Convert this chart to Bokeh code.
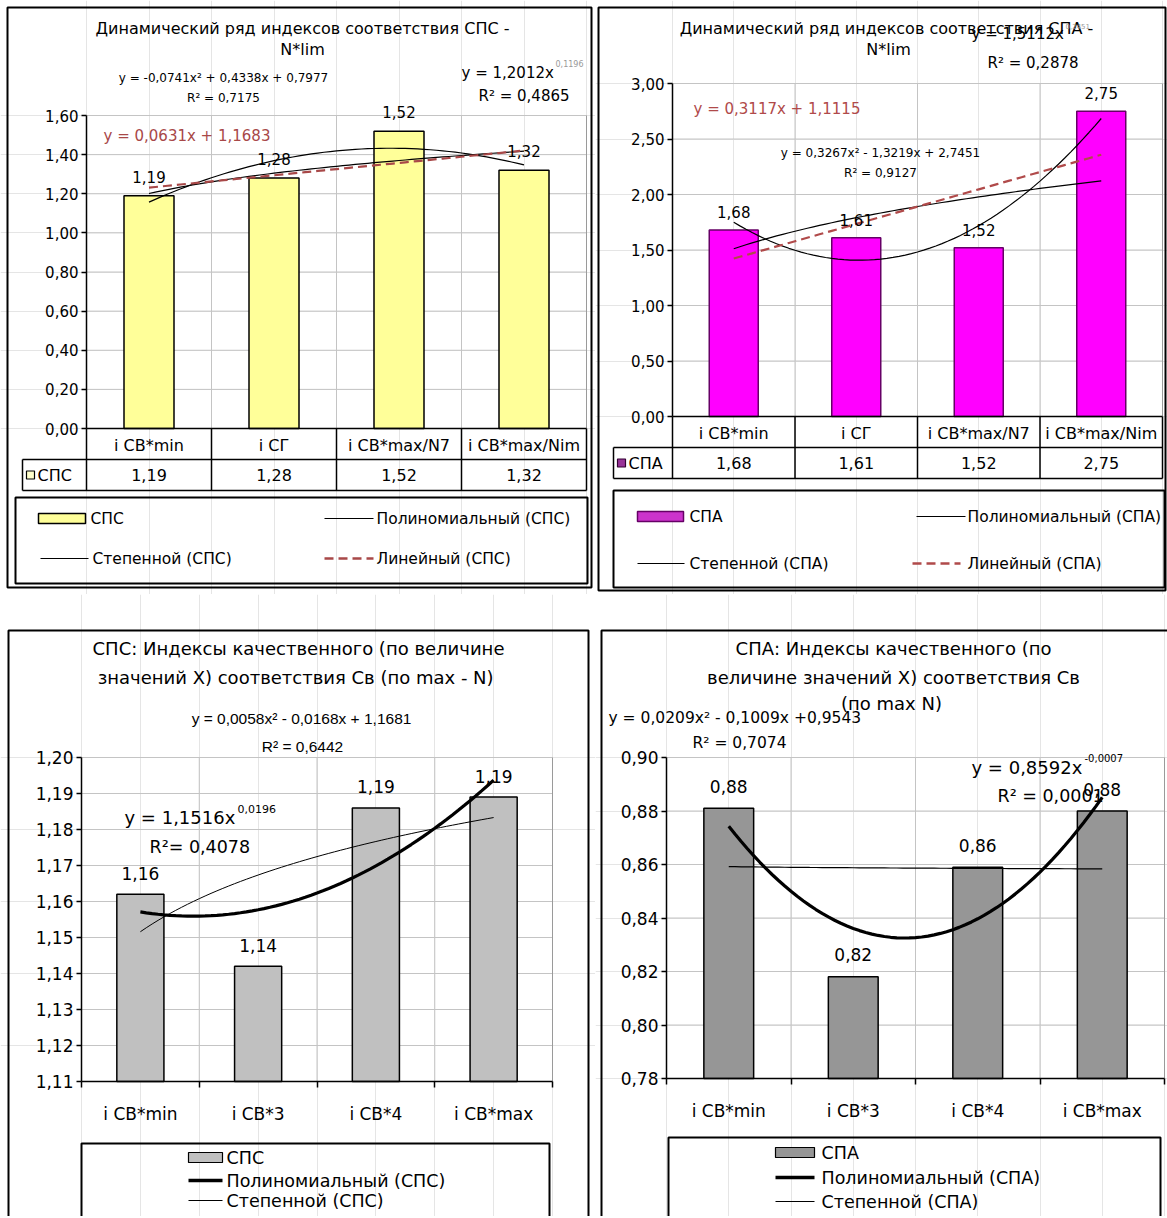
import numpy as np
from bokeh.plotting import figure
from bokeh.models import Range1d, LinearAxis, FixedTicker, CustomJSTickFormatter
from bokeh.layouts import row, column
from bokeh.core.properties import value
from bokeh.embed import file_html
from bokeh.resources import INLINE

# ---------------- data ----------------
top_categories = ["i СВ*min", "i СГ", "i СВ*max/N7", "i СВ*max/Nim"]
sps_top = [1.19, 1.28, 1.52, 1.32]
spa_top = [1.68, 1.61, 1.52, 2.75]
bottom_categories = ["i СВ*min", "i СВ*3", "i СВ*4", "i СВ*max"]
sps_bottom = [1.162, 1.142, 1.186, 1.189]
spa_bottom = [0.881, 0.818, 0.859, 0.880]

# trend-line coefficients as printed on the charts
sps_top_poly = [-0.0741, 0.4338, 0.7977]
sps_top_power = [1.2012, 0.1196]
sps_top_linear = [0.0631, 1.1683]
spa_top_poly = [0.3267, -1.3219, 2.7451]
spa_top_power = [1.5112, 0.2451]
spa_top_linear = [0.3117, 1.1115]
sps_bottom_poly = [0.0058, -0.0168, 1.1681]
sps_bottom_power = [1.1516, 0.0196]
spa_bottom_poly = [0.0209, -0.1009, 0.9543]
spa_bottom_power = [0.8592, -0.0007]

sps_top_ticks = [0.0, 0.2, 0.4, 0.6, 0.8, 1.0, 1.2, 1.4, 1.6]
spa_top_ticks = [0.0, 0.5, 1.0, 1.5, 2.0, 2.5, 3.0]
sps_bottom_ticks = [1.11, 1.12, 1.13, 1.14, 1.15, 1.16, 1.17, 1.18, 1.19, 1.20]
spa_bottom_ticks = [0.78, 0.80, 0.82, 0.84, 0.86, 0.88, 0.90]

FONT = "DejaVu Sans"
NARROW = "Liberation Sans"
GRID = "#c4c4c4"


def comma(v):
    return f"{v:.2f}".replace(".", ",")


class Panel:
    """One Excel-like chart; the canvas is the whole chart area, the plot
    area is mapped onto pixel box (L, T)-(R, B) through the data ranges."""

    def __init__(self, W, H, L, R, T, B, ymin, ymax):
        self.W, self.H = W, H
        self.L, self.R, self.T, self.B = L, R, T, B
        self.ymin, self.ymax = ymin, ymax
        self.kx = (R - L) / 4.0
        self.x0 = -L / self.kx
        self.x1 = (W - L) / self.kx
        self.ky = (B - T) / (ymax - ymin)
        self.y1 = ymax + T / self.ky
        self.y0 = ymin - (H - B) / self.ky
        p = figure(width=W, height=H, x_range=Range1d(self.x0, self.x1),
                   y_range=Range1d(self.y0, self.y1), output_backend="svg",
                   toolbar_location=None, x_axis_location=None, y_axis_location=None,
                   min_border=0, tools="")
        p.outline_line_color = None
        p.background_fill_color = "white"
        p.border_fill_color = "white"
        self.p = p

    def X(self, px):
        return self.x0 + px / self.kx

    def Y(self, py):
        return self.y1 - py / self.ky

    def text(self, px, py, s, size, align="left", color="black", font=FONT, style="normal"):
        self.p.text(x=[self.X(px)], y=[self.Y(py)], text=[s], text_font=value(font),
                    text_font_size=f"{size}px", text_align=align, text_baseline="middle",
                    text_color=color, text_font_style=style)

    def line(self, pxs, pys, color="black", width=1.0, dash="solid"):
        self.p.line(x=[self.X(v) for v in pxs], y=[self.Y(v) for v in pys],
                    line_color=color, line_width=width, line_dash=dash)

    def box(self, l, t, r, b, color="black", width=1.0, fill=None):
        self.p.quad(left=[self.X(l)], right=[self.X(r)], top=[self.Y(t)], bottom=[self.Y(b)],
                    fill_color=fill, line_color=color, line_width=width)

    # ---- chart pieces ----
    def grid(self, ticks):
        ys = [t for t in ticks if t > self.ymin + 1e-9]
        self.p.segment(x0=[0] * len(ys), x1=[4] * len(ys), y0=ys, y1=ys,
                       line_color=GRID, line_width=1)
        self.p.segment(x0=[1, 2, 3], x1=[1, 2, 3], y0=[self.ymin] * 3, y1=[self.ymax] * 3,
                       line_color=GRID, line_width=1)
        self.p.segment(x0=[4], x1=[4], y0=[self.ymin], y1=[self.ymax],
                       line_color="#9a9a9a", line_width=1)

    def bars(self, vals, fill, edge):
        self.p.vbar(x=[i + 0.5 for i in range(len(vals))], top=vals, bottom=self.ymin,
                    width=0.4, fill_color=fill, line_color=edge, line_width=1.5)

    def data_labels(self, vals, off, size):
        self.p.text(x=[i + 0.5 for i in range(len(vals))], y=[v + off / self.ky for v in vals],
                    text=[comma(v) for v in vals], text_font=value(FONT),
                    text_font_size=f"{size}px", text_align="center", text_baseline="middle")

    def trend(self, kind, c, color="black", width=1.0, dash="solid"):
        xe = np.linspace(1, 4, 61)
        if kind == "poly":
            ye = c[0] * xe ** 2 + c[1] * xe + c[2]
        elif kind == "power":
            ye = c[0] * xe ** c[1]
        else:
            ye = c[0] * xe + c[1]
        self.p.line(x=xe - 0.5, y=ye, line_color=color, line_width=width, line_dash=dash)

    def yaxis(self, ticks, size):
        ax = LinearAxis(fixed_location=0, bounds=(self.ymin, self.ymax),
                        ticker=FixedTicker(ticks=ticks),
                        formatter=CustomJSTickFormatter(code="return tick.toFixed(2).replace('.', ',');"))
        ax.major_tick_in = 0
        ax.major_tick_out = 5
        ax.minor_tick_in = 0
        ax.minor_tick_out = 0
        ax.axis_line_width = 1.5
        ax.major_tick_line_width = 1.5
        ax.major_label_standoff = 3
        ax.major_label_text_font = FONT
        ax.major_label_text_font_size = f"{size}px"
        ax.major_label_text_color = "black"
        self.p.add_layout(ax, "left")

    def xaxis(self, tick_out):
        ax = LinearAxis(fixed_location=self.ymin, bounds=(0, 4),
                        ticker=FixedTicker(ticks=[0, 1, 2, 3, 4]),
                        formatter=CustomJSTickFormatter(code="return '';"))
        ax.major_tick_in = 0
        ax.major_tick_out = tick_out
        ax.minor_tick_in = 0
        ax.minor_tick_out = 0
        ax.axis_line_width = 1.5
        ax.major_tick_line_width = 1.5
        self.p.add_layout(ax, "below")

    def xlabels(self, cats, size, standoff):
        ax = LinearAxis(fixed_location=self.ymin, bounds=(0, 4),
                        ticker=FixedTicker(ticks=[0.5, 1.5, 2.5, 3.5]),
                        formatter=CustomJSTickFormatter(args=dict(labels=cats),
                                                        code="return labels[Math.round(tick - 0.5)];"))
        ax.axis_line_color = None
        ax.major_tick_line_color = None
        ax.major_tick_in = 0
        ax.major_tick_out = 0
        ax.minor_tick_in = 0
        ax.minor_tick_out = 0
        ax.major_label_standoff = standoff
        ax.major_label_text_font = FONT
        ax.major_label_text_font_size = f"{size}px"
        ax.major_label_text_color = "black"
        self.p.add_layout(ax, "below")

    def table(self, vals, name, swatch_fill, swatch_edge, label_left, row_h, size):
        B, L, R = self.B, self.L, self.R
        r1, r2 = B + row_h, B + 2 * row_h
        cw = (R - L) / 4.0
        self.line([label_left, R], [r1, r1], width=1.5)
        self.line([label_left, R], [r2, r2], width=1.5)
        self.line([label_left, label_left], [r1, r2], width=1.5)
        for k in range(5):
            xk = L + k * cw
            self.line([xk, xk], [B, r2], width=1.5)
        self.p.text(x=[i + 0.5 for i in range(4)], y=[self.Y((r1 + r2) / 2)] * 4,
                    text=[comma(v) for v in vals], text_font=value(FONT),
                    text_font_size=f"{size}px", text_align="center", text_baseline="middle")
        cy = (r1 + r2) / 2
        self.box(label_left + 4, cy - 4, label_left + 12, cy + 4, color=swatch_edge, width=1.2,
                 fill=swatch_fill)
        self.text(label_left + 15, cy, name, size)


# =============== Panel 1: СПС top (origin 0,0) ===============
P1 = Panel(595, 594, 86, 586, 115, 428, 0.0, 1.6)
P1.grid(sps_top_ticks)
P1.bars(sps_top, "#ffff99", "black")
P1.trend("poly", sps_top_poly, "black", 1.2)
P1.trend("power", sps_top_power, "black", 1.2)
P1.trend("linear", sps_top_linear, "#a84848", 2.2, "9 5")
P1.data_labels(sps_top, 19, 15)
P1.yaxis(sps_top_ticks, 15)
P1.xaxis(0)
P1.xlabels(top_categories, 16, 7)
P1.table(sps_top, "СПС", "#ffffcc", "black", 22, 31, 16)
P1.text(302, 28, "Динамический ряд индексов соответствия СПС -", 16, "center")
P1.text(302, 49, "N*lim", 16, "center")
P1.text(223, 77, "y = -0,0741x² + 0,4338x + 0,7977", 12, "center")
P1.text(223, 97, "R² = 0,7175", 12, "center")
P1.text(461, 72, "y = 1,2012x", 15)
P1.text(555, 63, "0,1196", 8, color="#999999")
P1.text(478, 95, "R² = 0,4865", 15)
P1.text(103, 135, "y = 0,0631x + 1,1683", 15, color="#a84848")
# legend
P1.box(15, 497, 587, 583, width=2)
P1.box(38, 513, 85, 523, width=1.5, fill="#ffff99")
P1.text(90, 518, "СПС", 15.5)
P1.line([324, 373], [518, 518], width=1.2)
P1.text(376, 518, "Полиномиальный (СПС)", 15.5)
P1.line([40, 88], [558, 558], width=1.2)
P1.text(92, 558, "Степенной (СПС)", 15.5)
P1.line([324, 373], [558, 558], color="#a84848", width=2.5, dash="9 5")
P1.text(376, 558, "Линейный (СПС)", 15.5)
P1.box(7, 7, 591, 587, width=2)

# =============== Panel 2: СПА top (origin 595,0) ===============
P2 = Panel(572, 594, 77, 567, 83, 416, 0.0, 3.0)
P2.grid(spa_top_ticks)
P2.bars(spa_top, "#ff00ff", "#660066")
P2.trend("poly", spa_top_poly, "black", 1.2)
P2.trend("power", spa_top_power, "black", 1.2)
P2.trend("linear", spa_top_linear, "#b04a4a", 2.2, "9 5")
P2.data_labels(spa_top, 18, 15)
P2.yaxis(spa_top_ticks, 15)
P2.xaxis(0)
P2.xlabels(top_categories, 16, 7)
P2.table(spa_top, "СПА", "#993399", "#330033", 18, 31, 16)
P2.text(291, 28, "Динамический ряд индексов соответствия СПА -", 16, "center")
P2.text(293, 49, "N*lim", 16, "center")
P2.text(376, 33, "y = 1,5112x", 15)
P2.text(470, 25, "0,2451", 7, color="#999999")
P2.text(392, 62, "R² = 0,2878", 15)
P2.text(98, 108, "y = 0,3117x + 1,1115", 15, color="#b04a4a")
P2.text(285, 152, "y = 0,3267x² - 1,3219x + 2,7451", 12, "center")
P2.text(285, 172, "R² = 0,9127", 12, "center")
P2.box(18, 490, 569, 587, width=2)
P2.box(42, 511, 88, 521, color="#660066", width=1.5, fill="#cc33cc")
P2.text(94, 516, "СПА", 15.5)
P2.line([321, 370], [516, 516], width=1.2)
P2.text(372, 516, "Полиномиальный (СПА)", 15.5)
P2.line([42, 89], [563, 563], width=1.2)
P2.text(94, 563, "Степенной (СПА)", 15.5)
P2.line([317, 365], [563, 563], color="#b04a4a", width=2.5, dash="9 5")
P2.text(372, 563, "Линейный (СПА)", 15.5)
P2.box(3, 7, 570, 590, width=2)

# =============== Panel 3: СПС bottom (origin 0,594) ===============
P3 = Panel(595, 622, 81, 552, 163, 487, 1.11, 1.20)
P3.grid(sps_bottom_ticks)
P3.bars(sps_bottom, "#c0c0c0", "black")
P3.trend("poly", sps_bottom_poly, "black", 3.2)
P3.trend("power", sps_bottom_power, "black", 1.0)
P3.data_labels(sps_bottom, 21, 17)
P3.yaxis(sps_bottom_ticks, 17)
P3.xaxis(6)
P3.xlabels(bottom_categories, 17, 22)
P3.text(298, 54, "СПС: Индексы качественного (по величине", 18, "center")
P3.text(298, 83, "значений X) соответствия Св  (по max - N)", 18, "center")
P3.text(301, 124, "y = 0,0058x² - 0,0168x + 1,1681", 15.5, "center", font=NARROW)
P3.text(302, 152, "R² = 0,6442", 15.5, "center", font=NARROW)
P3.text(124, 223, "y = 1,1516x", 18)
P3.text(237, 214, "0,0196", 11)
P3.text(149, 252, "R²= 0,4078", 17.5)
P3.line([81, 81, 549, 549], [640, 549, 549, 640], width=2)
P3.box(188, 558, 222, 568, width=1.2, fill="#c0c0c0")
P3.text(226, 563, "СПС", 17.5)
P3.line([188, 222], [586, 586], width=3.5)
P3.text(226, 586, "Полиномиальный (СПС)", 17.5)
P3.line([188, 222], [606, 606], width=1.2)
P3.text(226, 606, "Степенной (СПС)", 17.5)
P3.line([8, 8, 588, 588], [640, 36, 36, 640], width=2)

# =============== Panel 4: СПА bottom (origin 595,594) ===============
P4 = Panel(572, 622, 71, 569, 163, 484, 0.78, 0.90)
P4.grid(spa_bottom_ticks)
P4.bars(spa_bottom, "#969696", "black")
P4.trend("poly", spa_bottom_poly, "black", 3.2)
P4.trend("power", spa_bottom_power, "black", 1.2)
P4.data_labels(spa_bottom, 22, 17)
P4.yaxis(spa_bottom_ticks, 17)
P4.xaxis(6)
P4.xlabels(bottom_categories, 17, 22)
P4.text(298, 54, "СПА: Индексы качественного (по", 18, "center")
P4.text(298, 83, "величине значений X) соответствия Св", 18, "center")
P4.text(296, 109, "(по max N)", 18, "center")
P4.text(13, 123, "y = 0,0209x² - 0,1009x +0,9543", 15.5)
P4.text(97, 148, "R² = 0,7074", 15.5)
P4.text(376, 173, "y = 0,8592x", 18)
P4.text(489, 163, "-0,0007", 10)
P4.text(402, 201, "R² = 0,0001", 17.5)
P4.line([73, 73, 565, 565], [640, 543, 543, 640], width=2)
P4.box(180, 553, 219, 563, width=1.2, fill="#969696")
P4.text(226, 558, "СПА", 17.5)
P4.line([180, 219], [583, 583], width=3.5)
P4.text(226, 583, "Полиномиальный (СПА)", 17.5)
P4.line([180, 219], [607, 607], width=1.2)
P4.text(226, 607, "Степенной (СПА)", 17.5)
P4.line([6, 6, 572], [640, 36, 36], width=2)

layout = column(
    row(P1.p, P2.p),
    row(P3.p, P4.p),
)

open("out.html", "w").write(file_html(layout, INLINE))
